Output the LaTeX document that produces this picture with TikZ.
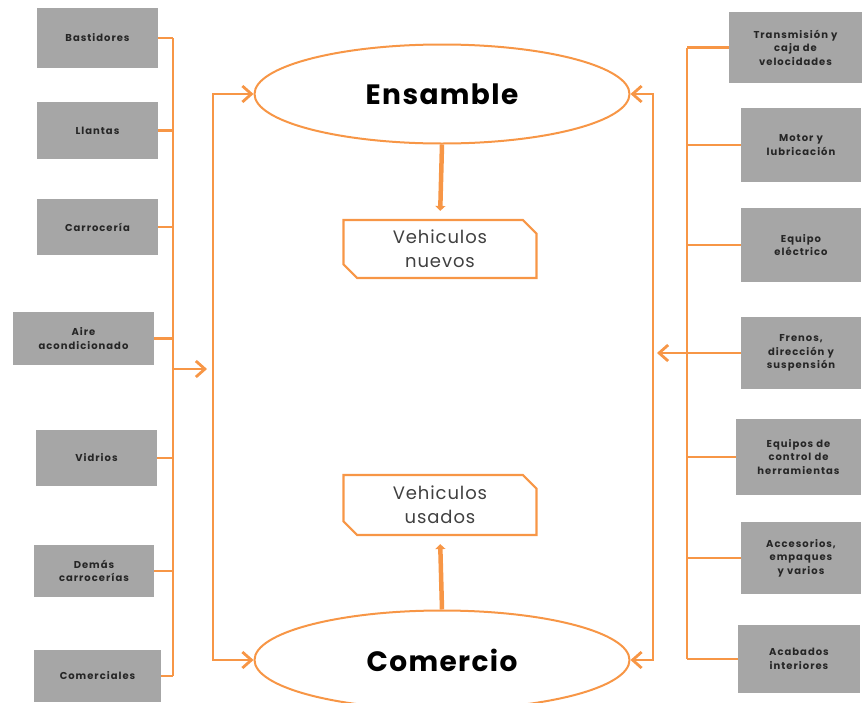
\documentclass[tikz,border=0pt]{standalone}
\usepackage{fontspec}
\setmainfont{Poppins}
\newfontfamily\partfont[LetterSpace=10]{Poppins}
\newfontfamily\outfont[LetterSpace=5]{Poppins}
\usepackage{tikz}
\usetikzlibrary{
    positioning,
    arrows.meta,
    shapes.geometric,
    shapes.misc
}
\definecolor{flowOrange}{RGB}{247, 150, 70}
\definecolor{partGray}{RGB}{166, 166, 166}

\begin{document}
\begin{tikzpicture}[x=1pt, y=-1pt,
    part/.style={fill=partGray, inner sep=0pt, align=center, text=black!85,
        font=\partfont\fontsize{10}{13.5}\selectfont\bfseries},
    stage/.style={ellipse, draw=flowOrange, line width=2pt, inner sep=0pt,
        minimum width=375pt, minimum height=99pt,
        font=\outfont\fontsize{28}{32}\selectfont\bfseries},
    output/.style={chamfered rectangle, chamfered rectangle corners={north east, south west},
        chamfered rectangle xsep=10pt, draw=flowOrange, line width=2.2pt, inner sep=0pt,
        minimum width=193pt, minimum height=58pt, align=center, text=black!75,
        font=\outfont\fontsize{18}{24}\selectfont},
    bus/.style={flowOrange, line width=2.8pt},
    flow/.style={bus, -{Straight Barb[length=9pt, width=16pt]}},
    feed/.style={flowOrange, line width=4.5pt, -{Triangle[length=5pt, width=10pt]}, shorten >=8pt}
]
            \useasboundingbox (0,0) rectangle (862,702);

            % centre
            \node[stage] (ens) at (442,94) {Ensamble};
            \node[stage] (com) at (442,660) {Comercio};
            \node[output] (nuevos) at (440,249) {Vehiculos\\nuevos};
            \node[output, minimum height=60pt] (usados) at (440,505) {Vehiculos\\usados};
            \draw[feed] (ens.south) -- (nuevos.north);
            \draw[feed] (com.north) -- (usados.south);

            % left parts
            \node[part, minimum width=121pt, minimum height=60pt] (bast) at (97.5,38) {Bastidores};
            \node[part, minimum width=121pt, minimum height=57pt] (llan) at (97.5,130.5) {Llantas};
            \node[part, minimum width=121pt, minimum height=56pt] (carr) at (97.5,227) {Carrocería};
            \node[part, minimum width=141pt, minimum height=53pt] (aire) at (83.5,338.5) {Aire\\acondicionado};
            \node[part, minimum width=121pt, minimum height=56pt] (vidr) at (96.5,458) {Vidrios};
            \node[part, minimum width=120pt, minimum height=52pt] (dema) at (94,571) {Demás\\carrocerías};
            \node[part, minimum width=127pt, minimum height=52pt] (come) at (97.5,676) {Comerciales};

            % right parts
            \node[part, minimum width=133pt, minimum height=71pt] (tran) at (795.5,47.5) {Transmisión y\\caja de\\velocidades};
            \node[part, minimum width=120pt, minimum height=74pt] (moto) at (801,145) {Motor y\\lubricación};
            \node[part, minimum width=120pt, minimum height=74pt] (equi) at (801,245) {Equipo\\eléctrico};
            \node[part, minimum width=120pt, minimum height=72pt] (fren) at (801,353) {Frenos,\\dirección y\\suspensión};
            \node[part, minimum width=125pt, minimum height=76pt] (ctrl) at (798.5,457) {Equipos de\\control de\\herramientas};
            \node[part, minimum width=120pt, minimum height=72pt] (acce) at (801,558) {Accesorios,\\empaques\\y varios};
            \node[part, minimum width=122pt, minimum height=68pt] (acab) at (799,659) {Acabados\\interiores};

            % left bus
            \coordinate (lbus) at (173,0);
            \coordinate (lrail) at (213,369);
            \draw[bus] (bast.east -| lbus) -- (come.east -| lbus);
            \foreach \p in {bast,llan,carr,aire,vidr,dema,come}
                \draw[bus] (\p.east) -- (\p.east -| lbus);
            \draw[flow] (lbus |- lrail) -- ([xshift=-6pt]lrail);
            \draw[flow] (lrail) |- (ens.west);
            \draw[flow] (lrail) |- (com.west);

            % right bus
            \coordinate (rbus) at (687,0);
            \coordinate (rrail) at (653,353);
            \draw[bus] (tran.west -| rbus) -- (acab.west -| rbus);
            \foreach \p in {tran,moto,equi,fren,ctrl,acce,acab}
                \draw[bus] (\p.west) -- (\p.west -| rbus);
            \draw[flow] (rbus |- rrail) -- ([xshift=4pt]rrail);
            \draw[flow] (rrail) |- (ens.east);
            \draw[flow] (rrail) |- (com.east);
        \end{tikzpicture}
\end{document}
